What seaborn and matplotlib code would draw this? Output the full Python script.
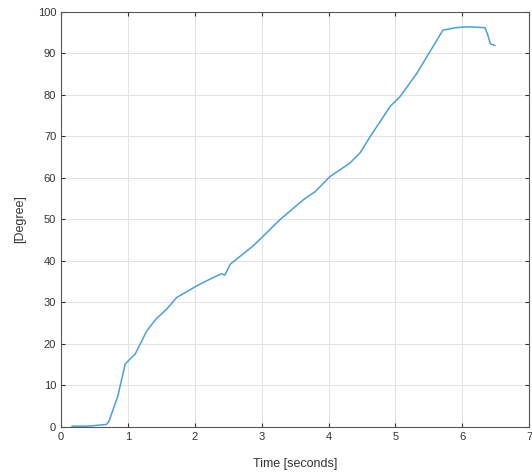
import numpy as np
import pandas as pd
import matplotlib
matplotlib.use("Agg")
import matplotlib.pyplot as plt
import seaborn as sns

time_s = [0.16, 0.4, 0.68, 0.72, 0.85, 0.96, 1.11, 1.28, 1.42, 1.58, 1.73, 2.03, 2.25, 2.40, 2.45,
          2.53, 2.87, 3.0, 3.27, 3.62, 3.8, 4.02, 4.32, 4.47, 4.62, 4.92, 5.07, 5.32, 5.5, 5.71,
          5.9, 6.1, 6.34, 6.38, 6.42, 6.49]
degree = [0.2, 0.2, 0.6, 1.5, 7.5, 15.2, 17.6, 23.1, 26.0, 28.4, 31.2, 34.0, 35.8, 36.9, 36.6,
          39.2, 43.6, 45.6, 49.9, 54.7, 56.7, 60.3, 63.6, 66.0, 69.9, 77.2, 79.6, 85.2, 90.0, 95.6,
          96.2, 96.4, 96.2, 94.5, 92.3, 91.9]

df = pd.DataFrame({"t": time_s, "deg": degree})

sns.set_style("whitegrid")
plt.rcParams['font.family'] = ['Liberation Sans', 'DejaVu Sans']

fig = plt.figure(figsize=(5.32, 4.76), dpi=100)
ax = fig.add_axes([0.1147, 0.103, 0.88, 0.872])
sns.lineplot(data=df, x="t", y="deg", ax=ax, color="#4a9fd8", linewidth=1.1, sort=False)

ax.set_xlim(0, 7)
ax.set_ylim(0, 100)
ax.set_xticks(range(0, 8))
ax.set_yticks(range(0, 101, 10))
ax.grid(True, color="#e3e3e3", linewidth=0.7)
for s in ax.spines.values():
    s.set_color("#555555")
    s.set_linewidth(0.8)
ax.tick_params(direction="in", length=3, labelsize=8, colors="#333333",
               top=True, right=True, bottom=True, left=True)
ax.set_xlabel("Time [seconds]", fontsize=9, color="#333333", labelpad=12)
ax.set_ylabel("[Degree]", fontsize=9, color="#333333", labelpad=8)

fig.savefig("out.png", dpi=100)
